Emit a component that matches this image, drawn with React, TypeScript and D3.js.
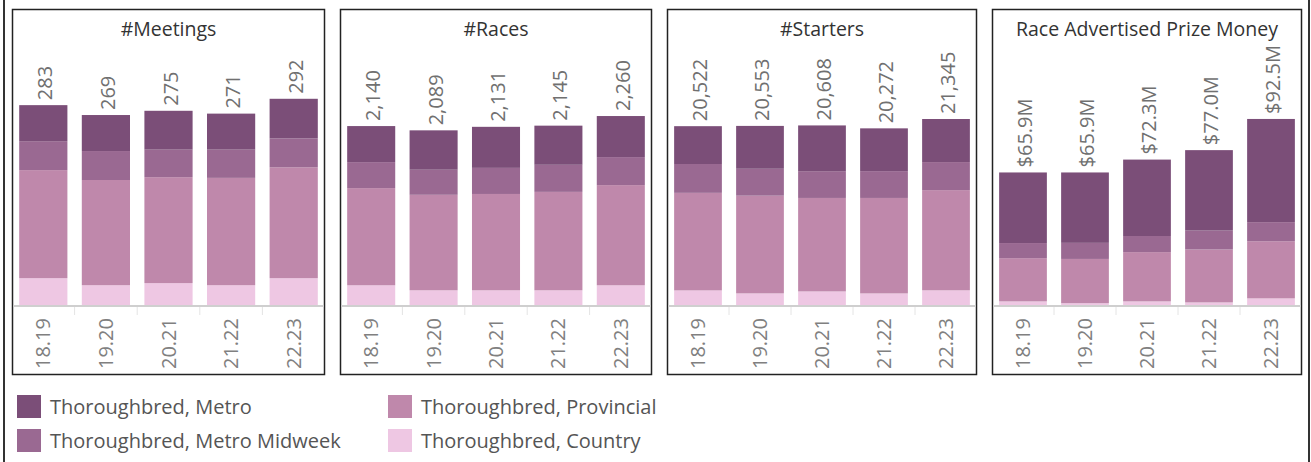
import React from "react";
import * as d3 from "d3";

const seasons = ["18.19", "19.20", "20.21", "21.22", "22.23"];
const seriesNames = [
  "Thoroughbred, Metro",
  "Thoroughbred, Metro Midweek",
  "Thoroughbred, Provincial",
  "Thoroughbred, Country",
];
const seriesColors = ["#7b4e78", "#9a6992", "#bf88ab", "#eec7e3"];
const panelTitles = ["#Meetings", "#Races", "#Starters", "Race Advertised Prize Money"];

// Meetings
const meetingsMetro = [51, 51, 55, 51, 56];
const meetingsMidweek = [41, 41, 39, 40, 41];
const meetingsProvincial = [153, 149, 150, 152, 157];
const meetingsCountry = [38, 28, 31, 28, 38];

// Races
const racesMetro = [431, 471, 491, 468, 491];
const racesMidweek = [311, 300, 312, 324, 335];
const racesProvincial = [1162, 1142, 1152, 1177, 1198];
const racesCountry = [236, 176, 176, 176, 236];

// Starters
const startersMetro = [4340, 4918, 5248, 4907, 4943];
const startersMidweek = [3312, 3090, 3075, 3080, 3219];
const startersProvincial = [11194, 11210, 10725, 10955, 11497];
const startersCountry = [1676, 1335, 1560, 1330, 1686];

// Prize money ($M)
const prizeMetro = [35.1, 35.0, 38.0, 40.0, 51.3];
const prizeMidweek = [7.5, 8.0, 8.0, 9.4, 9.5];
const prizeProvincial = [21.5, 22.0, 24.5, 26.3, 28.4];
const prizeCountry = [1.8, 0.9, 1.8, 1.3, 3.3];

// axis domain maxima per panel
const yDomainMax = [354, 2990, 28690, 124.3];

const fmtCount = d3.format(",");
const fmtMoney = (v: number) => "$" + d3.format(".1f")(v) + "M";

const panels = [
  { title: panelTitles[0], series: [meetingsMetro, meetingsMidweek, meetingsProvincial, meetingsCountry], fmt: fmtCount, max: yDomainMax[0] },
  { title: panelTitles[1], series: [racesMetro, racesMidweek, racesProvincial, racesCountry], fmt: fmtCount, max: yDomainMax[1] },
  { title: panelTitles[2], series: [startersMetro, startersMidweek, startersProvincial, startersCountry], fmt: fmtCount, max: yDomainMax[2] },
  { title: panelTitles[3], series: [prizeMetro, prizeMidweek, prizeProvincial, prizeCountry], fmt: fmtMoney, max: yDomainMax[3] },
];

const W = 1311;
const H = 462;
const FONT = "'Open Sans', 'Noto Sans', sans-serif";
const panelX = [12, 340, 667, 992];
const panelW = [313, 312, 310, 310];
const panelTop = 9;
const panelBottom = 375;
const baseY = 305;
const plotTop = 55;

function Panel({ idx }: { idx: number }) {
  const p = panels[idx];
  const x0 = panelX[idx];
  const w = panelW[idx];
  const x = d3.scaleBand<string>().domain(seasons).range([x0, x0 + w]).paddingInner(0.23).paddingOuter(0.115);
  const y = d3.scaleLinear().domain([0, p.max]).range([baseY, plotTop]);
  // stack order bottom -> top: Country, Provincial, Midweek, Metro
  const keys = [3, 2, 1, 0];
  const rows = seasons.map((s, i) => {
    const r: any = { season: s };
    keys.forEach((k) => (r["k" + k] = p.series[k][i]));
    return r;
  });
  const stack = d3.stack<any>().keys(keys.map((k) => "k" + k));
  const stacked = stack(rows);
  const totals = seasons.map((_, i) => d3.sum(p.series, (s) => s[i]));
  const bw = x.bandwidth();
  return (
    <g>
      <rect x={x0 + 0.5} y={panelTop + 0.5} width={w - 1} height={panelBottom - panelTop - 1} fill="#fff" stroke="#222" strokeWidth={1.5} />
      <text x={x0 + w / 2} y={36} textAnchor="middle" fontFamily={FONT} fontSize={19.5} fontWeight={500} fill="#333">
        {p.title}
      </text>
      {stacked.map((layer, li) => {
        const k = keys[li];
        return (
          <g key={li}>
            {layer.map((d, i) => (
              <rect
                key={i}
                x={x(seasons[i])}
                y={y(d[1])}
                width={bw}
                height={y(d[0]) - y(d[1])}
                fill={seriesColors[k]}
              />
            ))}
          </g>
        );
      })}
      <line x1={x0 + 1} x2={x0 + w - 1} y1={baseY + 1} y2={baseY + 1} stroke="#cfcfcf" strokeWidth={2} />
      {seasons.slice(1).map((s) => {
        const bx = (x(s) as number) - (x.step() - bw) / 2;
        return <line key={s} x1={bx} x2={bx} y1={baseY + 2} y2={baseY + 10} stroke="#e4e4e4" strokeWidth={1} />;
      })}
      {seasons.map((s, i) => {
        const cx = (x(s) as number) + bw / 2;
        const ty = y(totals[i]) - 5;
        return (
          <text key={"v" + s} transform={`translate(${cx + 2},${ty}) rotate(-90)`} dy="0.35em" fontFamily={FONT} fontSize={20} fill="#707070">
            {p.fmt(totals[i])}
          </text>
        );
      })}
      {seasons.map((s) => {
        const cx = (x(s) as number) + bw / 2;
        return (
          <text key={"c" + s} transform={`translate(${cx},${318}) rotate(-90)`} dy="0.35em" textAnchor="end" fontFamily={FONT} fontSize={20} fill="#808080">
            {s}
          </text>
        );
      })}
    </g>
  );
}

function Legend() {
  const cols = [17, 388];
  const rowsY = [395, 429];
  const order = [
    [0, 0, 0],
    [1, 0, 1],
    [2, 1, 0],
    [3, 1, 1],
  ];
  return (
    <g>
      {order.map(([si, c, r]) => (
        <g key={si}>
          <rect x={cols[c]} y={rowsY[r]} width={24} height={23} fill={seriesColors[si]} />
          <text x={cols[c] + 33} y={rowsY[r] + 19} fontFamily={FONT} fontSize={20} fill="#555">
            {seriesNames[si]}
          </text>
        </g>
      ))}
    </g>
  );
}

export default function App() {
  return (
    <svg width={W} height={H} style={{ position: "absolute", left: 0, top: 0, background: "#fff" }}>
      <rect x={0} y={0} width={W} height={H} fill="#fff" />
      {panels.map((_, i) => (
        <Panel key={i} idx={i} />
      ))}
      <Legend />
      <line x1={4} x2={4} y1={0} y2={H} stroke="#333" strokeWidth={2} />
      <line x1={1309} x2={1309} y1={0} y2={H} stroke="#333" strokeWidth={2} />
    </svg>
  );
}
